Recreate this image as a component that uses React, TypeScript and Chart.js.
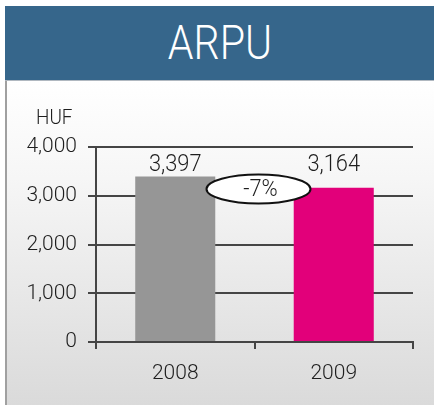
import React, { useEffect, useRef } from "react";
import { Chart, registerables } from "chart.js";

Chart.register(...registerables);

const categories: string[] = ["2008", "2009"];
const arpuValues: number[] = [3397, 3164];
const barColors: string[] = ["#969696", "#e2007a"];
const yTickValues: number[] = [0, 1000, 2000, 3000, 4000];
const changeLabel = "-7%";
const changeAnchorValue = 3140;
const unitLabel = "HUF";
const titleText = "ARPU";

const FONT = "Roboto, 'Liberation Sans', Arial, sans-serif";
const TEXT = "#1e1e1e";
const LINE = "#454545";

const fmt = (v: number) => v.toLocaleString("en-US");

function condensedText(ctx: any, text: string, x: number, y: number, sx: number) {
  ctx.save();
  ctx.translate(x, y);
  ctx.scale(sx, 1);
  ctx.fillText(text, 0, 0);
  ctx.restore();
}

const overlayPlugin = {
  id: "overlay",
  afterDatasetsDraw(chart: any) {
    const ctx = chart.ctx;
    const meta = chart.getDatasetMeta(0);
    ctx.save();
    ctx.fillStyle = TEXT;
    ctx.font = `300 23px ${FONT}`;
    ctx.textAlign = "center";
    ctx.textBaseline = "alphabetic";
    const topY = Math.min(...meta.data.map((b: any) => b.y));
    meta.data.forEach((bar: any, i: number) => {
      condensedText(ctx, fmt(arpuValues[i]), bar.x, topY - 5, 0.95);
    });
    // unit label
    ctx.textAlign = "left";
    ctx.font = `300 21px ${FONT}`;
    condensedText(ctx, unitLabel, 36, 124, 0.9);
    // ellipse with change
    const xs = chart.scales.x;
    const ys = chart.scales.y;
    const cx = xs.getPixelForValue(0.5) + 4;
    const cy = ys.getPixelForValue(changeAnchorValue);
    ctx.beginPath();
    ctx.ellipse(cx, cy, 52, 14.5, 0, 0, Math.PI * 2);
    ctx.fillStyle = "#ffffff";
    ctx.fill();
    ctx.lineWidth = 2;
    ctx.strokeStyle = "#111111";
    ctx.stroke();
    ctx.fillStyle = TEXT;
    ctx.textAlign = "center";
    ctx.textBaseline = "middle";
    ctx.font = `300 23px ${FONT}`;
    condensedText(ctx, changeLabel, cx + 2, cy + 1, 0.95);
    ctx.restore();
  },
};

export default function App() {
  const ref = useRef<HTMLCanvasElement | null>(null);
  useEffect(() => {
    if (!ref.current) return;
    const chart = new Chart(ref.current, {
      type: "bar",
      data: {
        labels: categories,
        datasets: [
          {
            data: arpuValues,
            backgroundColor: barColors,
            borderWidth: 0,
            categoryPercentage: 1,
            barPercentage: 0.505,
          },
        ],
      },
      options: {
        animation: false,
        responsive: false,
        devicePixelRatio: 1,
        layout: { padding: { left: 0, top: 147, right: 21, bottom: 0 } },
        plugins: {
          legend: { display: false },
          tooltip: { enabled: false },
          title: { display: false },
        },
        scales: {
          x: {
            offset: true,
            grid: {
              offset: true,
              drawOnChartArea: false,
              drawTicks: true,
              tickLength: 7,
              color: LINE,
              lineWidth: 2,
            },
            border: { display: true, color: LINE, width: 2 },
            ticks: {
              color: TEXT,
              font: { family: FONT, size: 21, weight: "300" },
              padding: 12,
            },
            afterFit: (s: any) => {
              s.height = 63;
            },
          },
          y: {
            min: 0,
            max: 4000,
            afterBuildTicks: (s: any) => {
              s.ticks = yTickValues.map((v) => ({ value: v }));
            },
            grid: {
              color: LINE,
              lineWidth: 2,
              drawTicks: true,
              tickLength: 8,
            },
            border: { display: true, color: LINE, width: 2 },
            ticks: {
              color: TEXT,
              font: { family: FONT, size: 21, weight: "300" },
              padding: 11,
              callback: (v: any) => fmt(Number(v)),
            },
            afterFit: (s: any) => {
              s.width = 96;
            },
          },
        },
      },
      plugins: [overlayPlugin],
    });
    return () => chart.destroy();
  }, []);

  return (
    <div style={{ position: "fixed", left: 0, top: 0, width: 434, height: 405, background: "#ffffff", overflow: "hidden" }}>
      <div
        style={{
          position: "absolute",
          left: 5,
          top: 6,
          width: 429,
          height: 74,
          background: "#36668b",
          borderBottom: "1px solid #b0b8c0",
        }}
      >
        <div
          style={{
            position: "absolute",
            left: 0,
            top: 0,
            width: 429,
            height: 74,
            color: "#ffffff",
            fontFamily: FONT,
            fontWeight: 300,
            fontSize: 49,
            lineHeight: "74px",
            textAlign: "center",
            transform: "scaleX(0.84)",
            transformOrigin: "217px 37px",
          }}
        >
          {titleText}
        </div>
      </div>
      <div
        style={{
          position: "absolute",
          left: 5,
          top: 81,
          width: 429,
          height: 324,
          boxSizing: "border-box",
          borderLeft: "2px solid #a0a0a0",
          background: "linear-gradient(to bottom, #ffffff 0%, #f6f6f6 30%, #dadada 100%)",
        }}
      />
      <canvas
        ref={ref}
        width={434}
        height={405}
        style={{ position: "absolute", left: 0, top: 0, width: 434, height: 405 }}
      />
    </div>
  );
}
